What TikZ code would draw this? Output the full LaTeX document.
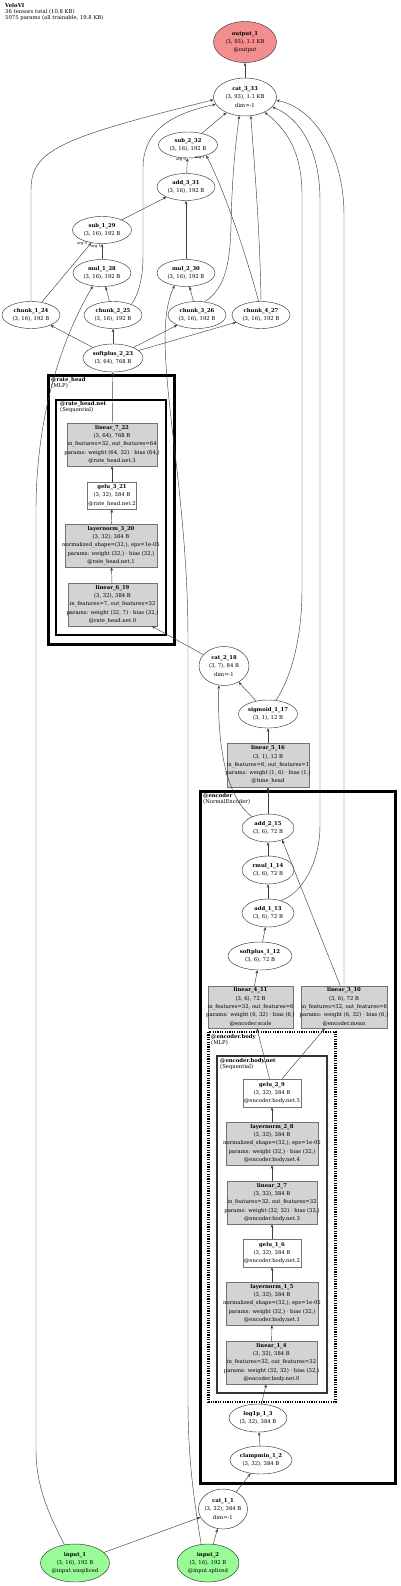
\documentclass[tikz,border=0pt]{standalone}
\usepackage{fontspec}
\setmainfont{DejaVu Serif}
\usepackage{tikz}
\usetikzlibrary{arrows.meta, shapes.geometric}
\definecolor{outred}{RGB}{243,142,142}
\definecolor{ingreen}{RGB}{152,251,152}
\definecolor{modgray}{RGB}{211,211,211}
\newcommand{\nodefont}{\fontsize{5.3}{8.3}\selectfont}
\newcommand{\zline}[1]{\makebox[0pt]{#1}}
\newcommand{\fnlab}[2]{\zline{\textbf{#1}}\\\zline{#2}}

\begin{document}
\begin{tikzpicture}[x=1pt, y=-1pt,
  fnnode/.style={ellipse, draw=black!80, line width=0.45pt, inner sep=0pt, align=center, font=\nodefont},
  modbox/.style={rectangle, draw=black!55, fill=modgray, line width=0.45pt, inner sep=0pt, align=center, font=\nodefont},
  plainbox/.style={modbox, fill=white},
  flow/.style={-{Stealth[length=3.5pt, width=2.8pt]}, draw=black!75, line width=0.45pt},
  clusterlab/.style={anchor=north west, inner sep=0pt, align=left, font=\fontsize{5.3}{6}\selectfont},
  arglab/.style={inner sep=0pt, font=\fontsize{3.7}{4}\selectfont}]
\useasboundingbox (0,0) rectangle (400,1586);
\node[clusterlab] (title) at (5,3) {\textbf{VeloVI}\\36 tensors total (10.8 KB)\\5075 params (all trainable, 19.8 KB)};

% module clusters
\draw[line width=3pt] (48.5,375.5) rectangle (174.5,644);
\node[clusterlab] (rh) at (51,377) {\textbf{@rate\_head}\\(MLP)};
\draw[line width=2pt] (56,399.5) rectangle (166,634.5);
\node[clusterlab] (rhnet) at (60,401) {\textbf{@rate\_head.net}\\(Sequential)};
\draw[line width=3pt] (200.5,791) rectangle (395,1483);
\node[clusterlab] (enc) at (203,793) {\textbf{@encoder}\\(NormalEncoder)};
\draw[line width=2.2pt, dash pattern=on 1.2pt off 1.2pt] (208.5,1032) rectangle (335.5,1402);
\node[clusterlab] (encbody) at (211,1034) {\textbf{@encoder.body}\\(MLP)};
\draw[line width=2pt, black!80] (217,1056) rectangle (327,1393);
\node[clusterlab] (encnet) at (220,1058) {\textbf{@encoder.body.net}\\(Sequential)};

% output side
\node[fnnode, fill=outred, minimum width=63, minimum height=41] (output_1) at (245,42) {\zline{\textbf{output\_1}}\\\zline{(3, 93), 1.1 KB}\\\zline{@output}};
\node[fnnode, minimum width=63, minimum height=38] (cat_3_33) at (245,97) {\zline{\textbf{cat\_3\_33}}\\\zline{(3, 93), 1.1 KB}\\\zline{dim=-1}};
\node[fnnode, minimum width=59, minimum height=26] (sub_2_32) at (188,145) {\fnlab{sub\_2\_32}{(3, 16), 192 B}};
\node[fnnode, minimum width=58, minimum height=27] (add_3_31) at (186,187) {\fnlab{add\_3\_31}{(3, 16), 192 B}};
\node[fnnode, minimum width=59, minimum height=27] (sub_1_29) at (102,230) {\fnlab{sub\_1\_29}{(3, 16), 192 B}};
\node[fnnode, minimum width=58, minimum height=27] (mul_1_28) at (102,273) {\fnlab{mul\_1\_28}{(3, 16), 192 B}};
\node[fnnode, minimum width=58, minimum height=27] (mul_2_30) at (186,273) {\fnlab{mul\_2\_30}{(3, 16), 192 B}};
\foreach \i/\n/\x in {1/24/31, 2/25/113, 3/26/197, 4/27/261}
  \node[fnnode, minimum width=58, minimum height=27] (chunk_\i_\n) at (\x,315) {\fnlab{chunk\_\i\_\n}{(3, 16), 192 B}};
\node[fnnode, minimum width=60, minimum height=28] (softplus_2_23) at (113,358) {\fnlab{softplus\_2\_23}{(3, 64), 768 B}};

% rate head
\node[modbox, minimum width=90, minimum height=43] (linear_7_22) at (112,444.5) {\zline{\textbf{linear\_7\_22}}\\\zline{(3, 64), 768 B}\\\zline{in\_features=32, out\_features=64}\\\zline{params: weight (64, 32) · bias (64,)}\\\zline{@rate\_head.net.3}};
\node[plainbox, minimum width=49, minimum height=27] (gelu_3_21) at (112,495.5) {\zline{\textbf{gelu\_3\_21}}\\\zline{(3, 32), 384 B}\\\zline{@rate\_head.net.2}};
\node[modbox, minimum width=92, minimum height=43] (layernorm_3_20) at (111,545.5) {\zline{\textbf{layernorm\_3\_20}}\\\zline{(3, 32), 384 B}\\\zline{normalized\_shape=(32,), eps=1e-05}\\\zline{params: weight (32,) · bias (32,)}\\\zline{@rate\_head.net.1}};
\node[modbox, minimum width=89, minimum height=43] (linear_6_19) at (112.5,604.5) {\zline{\textbf{linear\_6\_19}}\\\zline{(3, 32), 384 B}\\\zline{in\_features=7, out\_features=32}\\\zline{params: weight (32, 7) · bias (32,)}\\\zline{@rate\_head.net.0}};

% time head
\node[fnnode, minimum width=50, minimum height=39] (cat_2_18) at (224,666) {\zline{\textbf{cat\_2\_18}}\\\zline{(3, 7), 84 B}\\\zline{dim=-1}};
\node[fnnode, minimum width=59, minimum height=28] (sigmoid_1_17) at (268,714) {\fnlab{sigmoid\_1\_17}{(3, 1), 12 B}};
\node[modbox, minimum width=82, minimum height=44] (linear_5_16) at (268,765) {\zline{\textbf{linear\_5\_16}}\\\zline{(3, 1), 12 B}\\\zline{in\_features=6, out\_features=1}\\\zline{params: weight (1, 6) · bias (1,)}\\\zline{@time\_head}};

% encoder
\node[fnnode, minimum width=52, minimum height=28] (add_2_15) at (268,828) {\fnlab{add\_2\_15}{(3, 6), 72 B}};
\node[fnnode, minimum width=52, minimum height=28] (rmul_1_14) at (268,870) {\fnlab{rmul\_1\_14}{(3, 6), 72 B}};
\node[fnnode, minimum width=52, minimum height=28] (add_1_13) at (268,913) {\fnlab{add\_1\_13}{(3, 6), 72 B}};
\node[fnnode, minimum width=64, minimum height=28] (softplus_1_12) at (260,956) {\fnlab{softplus\_1\_12}{(3, 6), 72 B}};
\node[modbox, minimum width=85, minimum height=42] (linear_4_11) at (250.5,1007) {\zline{\textbf{linear\_4\_11}}\\\zline{(3, 6), 72 B}\\\zline{in\_features=32, out\_features=6}\\\zline{params: weight (6, 32) · bias (6,)}\\\zline{@encoder.scale}};
\node[modbox, minimum width=86, minimum height=42] (linear_3_10) at (344,1007) {\zline{\textbf{linear\_3\_10}}\\\zline{(3, 6), 72 B}\\\zline{in\_features=32, out\_features=6}\\\zline{params: weight (6, 32) · bias (6,)}\\\zline{@encoder.mean}};
\node[plainbox, minimum width=58, minimum height=28] (gelu_2_9) at (272,1093) {\zline{\textbf{gelu\_2\_9}}\\\zline{(3, 32), 384 B}\\\zline{@encoder.body.net.5}};
\node[modbox, minimum width=92, minimum height=43] (layernorm_2_8) at (272,1143.5) {\zline{\textbf{layernorm\_2\_8}}\\\zline{(3, 32), 384 B}\\\zline{normalized\_shape=(32,), eps=1e-05}\\\zline{params: weight (32,) · bias (32,)}\\\zline{@encoder.body.net.4}};
\node[modbox, minimum width=90, minimum height=43] (linear_2_7) at (272,1202.5) {\zline{\textbf{linear\_2\_7}}\\\zline{(3, 32), 384 B}\\\zline{in\_features=32, out\_features=32}\\\zline{params: weight (32, 32) · bias (32,)}\\\zline{@encoder.body.net.3}};
\node[plainbox, minimum width=58, minimum height=28] (gelu_1_6) at (272,1253) {\zline{\textbf{gelu\_1\_6}}\\\zline{(3, 32), 384 B}\\\zline{@encoder.body.net.2}};
\node[modbox, minimum width=92, minimum height=43] (layernorm_1_5) at (272,1303.5) {\zline{\textbf{layernorm\_1\_5}}\\\zline{(3, 32), 384 B}\\\zline{normalized\_shape=(32,), eps=1e-05}\\\zline{params: weight (32,) · bias (32,)}\\\zline{@encoder.body.net.1}};
\node[modbox, minimum width=91, minimum height=43] (linear_1_4) at (271.5,1362.5) {\zline{\textbf{linear\_1\_4}}\\\zline{(3, 32), 384 B}\\\zline{in\_features=32, out\_features=32}\\\zline{params: weight (32, 32) · bias (32,)}\\\zline{@encoder.body.net.0}};
\node[fnnode, minimum width=58, minimum height=28] (log1p_1_3) at (258,1418) {\fnlab{log1p\_1\_3}{(3, 32), 384 B}};
\node[fnnode, minimum width=62, minimum height=28] (clampmin_1_2) at (261,1460) {\fnlab{clampmin\_1\_2}{(3, 32), 384 B}};

% inputs
\node[fnnode, minimum width=49, minimum height=40] (cat_1_1) at (223,1509) {\zline{\textbf{cat\_1\_1}}\\\zline{(3, 32), 384 B}\\\zline{dim=-1}};
\node[fnnode, fill=ingreen, minimum width=69, minimum height=38] (input_1) at (75,1563) {\zline{\textbf{input\_1}}\\\zline{(3, 16), 192 B}\\\zline{@input.unspliced}};
\node[fnnode, fill=ingreen, minimum width=62, minimum height=38] (input_2) at (208,1563) {\zline{\textbf{input\_2}}\\\zline{(3, 16), 192 B}\\\zline{@input.spliced}};

% straight connectors
\foreach \a/\b in {cat_3_33/output_1, sub_2_32/cat_3_33, add_3_31/sub_2_32, sub_1_29/add_3_31,
  mul_2_30/add_3_31, mul_1_28/sub_1_29, chunk_1_24/sub_1_29, chunk_2_25/mul_1_28, chunk_3_26/mul_2_30,
  softplus_2_23/chunk_1_24, softplus_2_23/chunk_2_25, softplus_2_23/chunk_3_26, softplus_2_23/chunk_4_27,
  linear_7_22/softplus_2_23, gelu_3_21/linear_7_22, layernorm_3_20/gelu_3_21, linear_6_19/layernorm_3_20,
  cat_2_18/linear_6_19, sigmoid_1_17/cat_2_18, linear_5_16/sigmoid_1_17, add_2_15/linear_5_16,
  rmul_1_14/add_2_15, add_1_13/rmul_1_14, softplus_1_12/add_1_13, linear_4_11/softplus_1_12,
  layernorm_2_8/gelu_2_9, linear_2_7/layernorm_2_8, gelu_1_6/linear_2_7, layernorm_1_5/gelu_1_6,
  linear_1_4/layernorm_1_5, log1p_1_3/linear_1_4, clampmin_1_2/log1p_1_3, cat_1_1/clampmin_1_2,
  input_1/cat_1_1, input_2/cat_1_1}
  \draw[flow] (\a) -- (\b);
\draw[flow] (linear_3_10.100) -- (add_2_15.-40);
\draw[flow] (gelu_2_9.100) -- (linear_4_11.-73);
\draw[flow] (gelu_2_9.55) -- (linear_3_10.228);

% long connectors
\draw[flow] (chunk_1_24.north) -- (31,190) .. controls (31,150) and (60,138) .. (cat_3_33.185);
\draw[flow] (chunk_2_25.30) .. controls (140,292) and (143,275) .. (143,255) -- (143,168) .. controls (143,135) and (165,115) .. (cat_3_33.194);
\draw[flow] (chunk_3_26.60) .. controls (226,288) and (230,262) .. (231,225) .. controls (232,175) and (236,140) .. (cat_3_33.253);
\draw[flow] (chunk_4_27.north) .. controls (260,230) and (254,160) .. (cat_3_33.287);
\draw[flow] (chunk_4_27.100) .. controls (245,250) and (222,185) .. (sub_2_32.-30);
\draw[flow] (sigmoid_1_17.60) .. controls (290,680) and (302,640) .. (302,590) -- (302,195) .. controls (302,150) and (285,128) .. (cat_3_33.-38);
\draw[flow] (add_1_13.45) .. controls (300,895) and (320,865) .. (320,825) -- (320,200) .. controls (320,150) and (300,118) .. (cat_3_33.-20);
\draw[flow] (linear_3_10.north) -- (344,215) .. controls (344,155) and (315,108) .. (cat_3_33.-6);
\draw[flow] (add_2_15.145) .. controls (226,797) and (217,745) .. (cat_2_18.255);
\draw[flow] (input_1.120) .. controls (52,1520) and (36,1490) .. (36,1450) -- (36,510) .. controls (36,430) and (55,350) .. (mul_1_28.235);
\draw[flow] (input_2.110) .. controls (194,1500) and (188,1460) .. (188,1400) -- (188,640) .. controls (188,470) and (148,340) .. (mul_2_30.228);

% operand labels
\node[arglab] (arg0_sub1) at (82,244) {arg 0};
\node[arglab] (arg1_sub1) at (96,247) {arg 1};
\node[arglab] (arg0_sub2) at (181,160) {arg 0};
\node[arglab] (arg1_sub2) at (200,158) {arg 1};
\end{tikzpicture}
\end{document}
